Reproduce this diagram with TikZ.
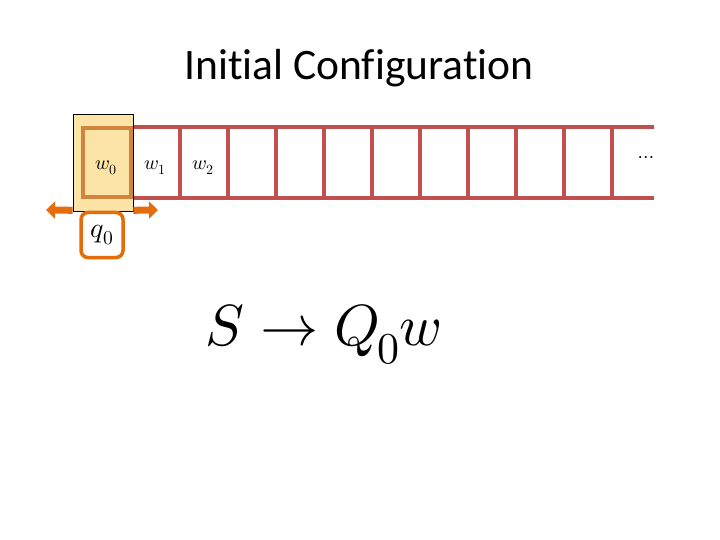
\documentclass[tikz,border=0pt]{standalone}
\usepackage{fontspec}
\setmainfont{Carlito}[Ligatures=NoCommon]
\usepackage{unicode-math}
\setmathfont{Latin Modern Math}
\usetikzlibrary{arrows.meta}
\definecolor{tapered}{HTML}{C0504D}
\definecolor{headfill}{HTML}{FCE4A6}
\definecolor{headcell}{HTML}{D0843C}
\definecolor{headorange}{HTML}{E46C0A}
\tikzset{
  tapeline/.style={draw=tapered, line width=4pt},
  cellbox/.style={draw=headcell, line width=4.5pt},
  headarrow/.style={draw=headorange, line width=7pt, -{Triangle[length=9pt,width=17pt]}},
  statebox/.style={draw=headorange, line width=3.5pt, rounded corners=7pt, fill=white},
  lbl/.style={inner sep=0pt}
}
\begin{document}
\begin{tikzpicture}[x=1pt,y=-1pt]
\useasboundingbox (0,0) rectangle (720,540);
% title
\node[lbl, anchor=base, font=\fontsize{43.5}{48}\selectfont] (title) at (359,80) {Initial Configuration};
% tape
\draw[tapeline] (82,127) -- (654,127);
\draw[tapeline] (82,198) -- (654,198);
\foreach \i in {1,...,11} {
  \draw[tapeline] (84+48*\i,127) -- (84+48*\i,198);
}
% head highlight
\node[draw=black, line width=0.6pt, fill=headfill, minimum width=60pt, minimum height=97pt, inner sep=0pt] (head) at (103,162.5) {};
\node[cellbox, minimum width=48pt, minimum height=69pt, inner sep=0pt] (cell0) at (107,162.5) {};
% arrows
\coordinate (la) at (46,210);
\coordinate (ra) at (158,210);
\draw[headarrow] (head.south west) ++(0,-1) -- (la);
\draw[headarrow] (head.south east) ++(0,-1) -- (ra);
% state
\node[statebox, minimum width=42pt, minimum height=45pt, inner sep=0pt] (q) at (102,235) {\fontsize{28}{30}\selectfont$q_0$};
% labels
\node[lbl, font=\fontsize{20}{22}\selectfont] (w0) at (106,168) {$w_0$};
\node[lbl, font=\fontsize{20}{22}\selectfont] (w1) at (155,168) {$w_1$};
\node[lbl, font=\fontsize{20}{22}\selectfont] (w2) at (203,168) {$w_2$};
\node[lbl, font=\fontsize{20}{22}\selectfont] (dots) at (646,159) {$\cdots$};
% rule
\node[lbl, anchor=base, font=\fontsize{58}{62}\selectfont] (rule) at (323,345) {$S \rightarrow Q\mkern-1mu\raisebox{-18pt}{\fontsize{44}{46}\selectfont$0$}w$};
\end{tikzpicture}
\end{document}
